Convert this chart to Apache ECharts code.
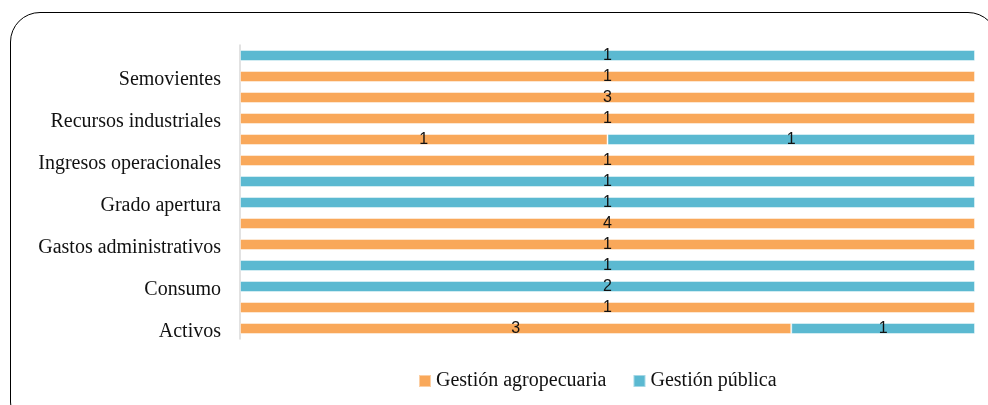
<!DOCTYPE html>
<html>
<head>
<meta charset="utf-8">
<script src="https://cdn.jsdelivr.net/npm/echarts@6/dist/echarts.min.js"></script>
<style>
html,body{margin:0;padding:0;background:#fff;overflow:hidden;}
#frame{position:absolute;left:10px;top:12px;width:988px;height:420px;border:1.5px solid #000;border-radius:30px;box-sizing:border-box;}
#chart{position:absolute;left:0;top:0;width:988px;height:405px;}
</style>
</head>
<body>
<div id="frame"></div>
<div id="chart"></div>
<script>
// bottom-to-top categories (odd rows have no visible label)
const categories = ["Activos", "", "Consumo", "", "Gastos administrativos", "", "Grado apertura", "", "Ingresos operacionales", "", "Recursos industriales", "", "Semovientes", ""];
const agropecuaria = [3, 1, 0, 0, 1, 4, 0, 0, 1, 1, 1, 3, 1, 0];
const publica      = [1, 0, 2, 1, 0, 0, 1, 1, 0, 1, 0, 0, 0, 1];
const seriesNames = ["Gestión agropecuaria", "Gestión pública"];
const colors = ["#F9A85A", "#5BB9D1"];

const totals = categories.map((c, i) => agropecuaria[i] + publica[i]);
function share(arr) {
  return arr.map((v, i) => v > 0 ? { value: v / totals[i], raw: v } : null);
}

const SERIF = 'Liberation Serif';
const SANS = 'Liberation Sans';

const chart = echarts.init(document.getElementById('chart'));
const labelCfg = {
  show: true,
  position: 'inside',
  color: '#111',
  fontFamily: SANS,
  fontSize: 16,
  formatter: p => p.data && p.data.raw != null ? String(p.data.raw) : ''
};
chart.setOption({
  animation: false,
  textStyle: { fontFamily: SERIF },
  grid: { left: 240, right: 13, top: 45, height: 294 },
  xAxis: { type: 'value', min: 0, max: 1, show: false },
  yAxis: {
    type: 'category',
    data: categories,
    axisLine: { show: true, lineStyle: { color: '#d9d9d9', width: 1.5 } },
    axisTick: { show: false },
    axisLabel: {
      interval: 1,
      margin: 19,
      color: '#111',
      fontFamily: SERIF,
      fontSize: 20,
      formatter: v => v ? '{c|' + v + '}' : '',
      rich: { c: { fontFamily: SERIF, fontSize: 20, color: '#111', padding: [6, 0, 0, 0] } }
    },
    splitLine: { show: false }
  },
  legend: {
    left: 413,
    top: 366,
    itemWidth: 12,
    itemHeight: 12,
    itemGap: 26,
    icon: 'rect',
    textStyle: { fontFamily: SERIF, fontSize: 20, color: '#111' },
    data: seriesNames
  },
  series: [
    { name: seriesNames[0], type: 'bar', stack: 'total', barWidth: 11, data: share(agropecuaria),
      itemStyle: { color: colors[0], borderColor: 'rgba(255,255,255,0.45)', borderWidth: 1 }, label: labelCfg },
    { name: seriesNames[1], type: 'bar', stack: 'total', barWidth: 11, data: share(publica),
      itemStyle: { color: colors[1], borderColor: 'rgba(255,255,255,0.45)', borderWidth: 1 }, label: labelCfg }
  ]
});
</script>
</body>
</html>
